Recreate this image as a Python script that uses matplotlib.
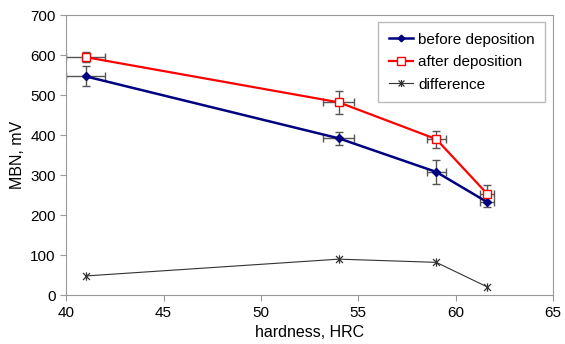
import numpy as np
import matplotlib.pyplot as plt
from matplotlib.path import Path

plt.rcParams['font.family'] = ['Liberation Sans', 'DejaVu Sans']

hardness = [41, 54, 59, 61.6]
before = [547, 392, 308, 233]
after = [595, 482, 390, 254]
difference = [48, 90, 82, 21]

before_yerr = [25, 16, 31, 12]
after_yerr = [13, 28, 21, 22]
hrc_err = [1.0, 0.8, 0.5, 0.35]

# excel-like star marker: an x with a vertical bar
star = Path([(-1, -1), (1, 1), (-1, 1), (1, -1), (0, -1.2), (0, 1.2)],
            [Path.MOVETO, Path.LINETO, Path.MOVETO, Path.LINETO,
             Path.MOVETO, Path.LINETO])

fig = plt.figure(figsize=(5.65, 3.44), dpi=100)
ax = fig.add_axes([0.117, 0.142, 0.862, 0.814])

ecol = '#555555'
ax.errorbar(hardness, before, yerr=before_yerr, xerr=hrc_err, fmt='none',
            ecolor=ecol, elinewidth=1, capsize=3, capthick=1, zorder=2)
ax.errorbar(hardness, after, yerr=after_yerr, xerr=hrc_err, fmt='none',
            ecolor=ecol, elinewidth=1, capsize=3, capthick=1, zorder=2)

ax.plot(hardness, before, color='#000080', marker='D', ms=4, lw=1.8,
        label='before deposition', zorder=3)
ax.plot(hardness, after, color='#ff0000', marker='s', ms=6, lw=1.6,
        mfc='white', mec='#ff0000', label='after deposition', zorder=3)
ax.plot(hardness, difference, color='#333333', marker=star, ms=6, lw=0.8,
        mew=0.9, label='difference', zorder=3)

ax.set_xlim(40, 65)
ax.set_ylim(0, 700)
ax.set_xticks(np.arange(40, 66, 5))
ax.set_yticks(np.arange(0, 701, 100))
ax.set_xlabel('hardness, HRC', fontsize=11.5)
ax.set_ylabel('MBN, mV', fontsize=11.5)
ax.tick_params(labelsize=11, direction='out', length=4, color='#999999')
for s in ax.spines.values():
    s.set_color('#999999')

leg = ax.legend(loc='upper right', fontsize=11, handlelength=1.6,
                handletextpad=0.3, labelspacing=0.55, borderpad=0.7,
                fancybox=False, framealpha=1, borderaxespad=0.0,
                bbox_to_anchor=(0.984, 0.975), markerscale=0.85)
leg.get_frame().set_edgecolor('#bbbbbb')

fig.savefig('out.png', dpi=100)
